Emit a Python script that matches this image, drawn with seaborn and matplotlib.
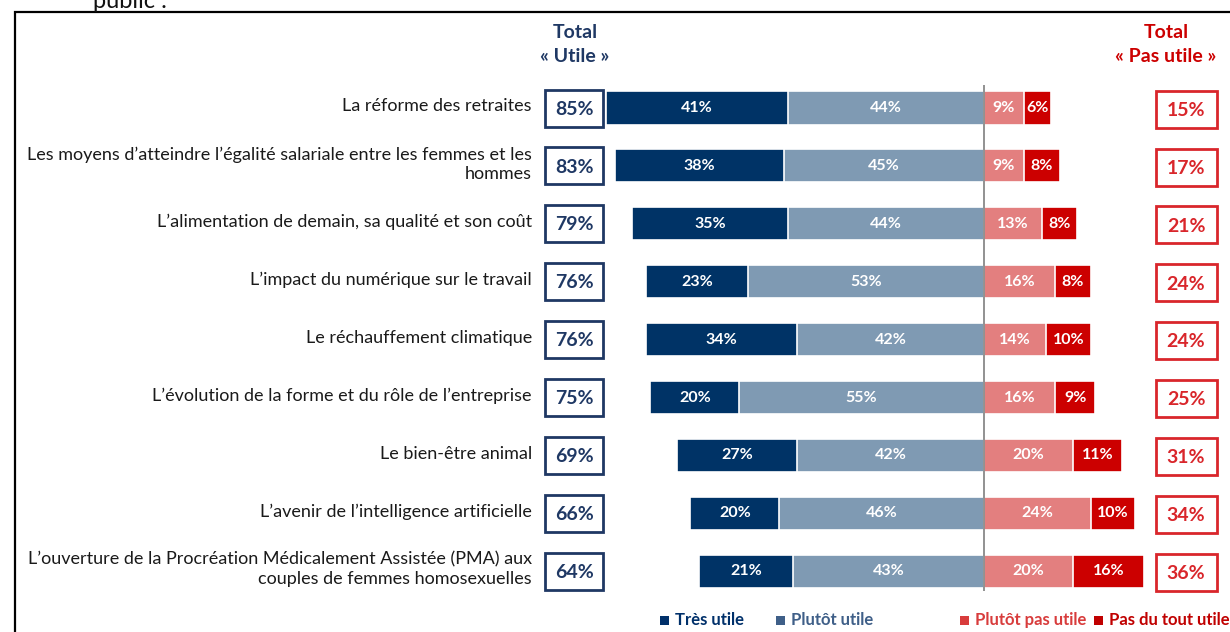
import matplotlib
matplotlib.use("Agg")
import matplotlib.pyplot as plt
from matplotlib.patches import Rectangle
import seaborn as sns
import pandas as pd

categories = [
    "La réforme des retraites",
    "Les moyens d’atteindre l’égalité salariale entre les femmes et les\nhommes",
    "L’alimentation de demain, sa qualité et son coût",
    "L’impact du numérique sur le travail",
    "Le réchauffement climatique",
    "L’évolution de la forme et du rôle de l’entreprise",
    "Le bien-être animal",
    "L’avenir de l’intelligence artificielle",
    "L’ouverture de la Procréation Médicalement Assistée (PMA) aux\ncouples de femmes homosexuelles",
]
tres_utile = [41, 38, 35, 23, 34, 20, 27, 20, 21]
plutot_utile = [44, 45, 44, 53, 42, 55, 42, 46, 43]
plutot_pas_utile = [9, 9, 13, 16, 14, 16, 20, 24, 20]
pas_du_tout_utile = [6, 8, 8, 8, 10, 9, 11, 10, 16]
total_utile = [85, 83, 79, 76, 76, 75, 69, 66, 64]
total_pas_utile = [15, 17, 21, 24, 24, 25, 31, 34, 36]
legend_labels = ["Très utile", "Plutôt utile", "Plutôt pas utile", "Pas du tout utile"]

C_DARK = "#003366"
C_LIGHT = "#7f9ab3"
C_LRED = "#e37f7f"
C_RED = "#cc0000"
C_BOXBLUE = "#1f3864"
C_BOXRED = "#d9262b"

sns.set_style("white")
plt.rcParams["font.family"] = ["Lato", "DejaVu Sans"]

W, H = 1230, 632
fig = plt.figure(figsize=(W / 100, H / 100), dpi=100)
ax = fig.add_axes([0, 0, 1, 1])

PX_PER_PCT = 4.45
X0 = 984.0
ROW0 = 108.0
ROW_STEP = 57.9


def px_x(p):
    return (p - X0) / PX_PER_PCT


def px_y(p):
    return (p - ROW0) / ROW_STEP


df = pd.DataFrame({
    "cat": categories,
    "neg_total": [-v for v in total_utile],
    "neg_plutot": [-v for v in plutot_utile],
    "pos_total": total_pas_utile,
    "pos_plutot": plutot_pas_utile,
})

bw = 0.57
common = dict(y="cat", data=df, orient="h", width=bw, saturation=1,
              edgecolor="white", linewidth=1.2, errorbar=None, ax=ax)
sns.barplot(x="neg_total", color=C_DARK, **common)
sns.barplot(x="neg_plutot", color=C_LIGHT, **common)
sns.barplot(x="pos_total", color=C_RED, **common)
sns.barplot(x="pos_plutot", color=C_LRED, **common)

ax.set_xlim(px_x(0), px_x(W))
ax.set_ylim(px_y(H), px_y(0))
ax.axis("off")

# center line
ax.vlines(0, px_y(85), px_y(591), color="#7f7f7f", lw=1.2, zorder=5)

lbl_kw = dict(ha="center", va="center", color="white", fontsize=11.5, fontweight="bold", zorder=6)
for i in range(len(categories)):
    tu, pu, pp, pd_ = tres_utile[i], plutot_utile[i], plutot_pas_utile[i], pas_du_tout_utile[i]
    ax.text(-(pu + tu / 2), i, f"{tu}%", **lbl_kw)
    ax.text(-pu / 2, i, f"{pu}%", **lbl_kw)
    ax.text(pp / 2, i, f"{pp}%", **lbl_kw)
    ax.text(pp + pd_ / 2, i, f"{pd_}%", **lbl_kw)

    # category label
    ax.text(px_x(532), i - 0.03, categories[i], ha="right", va="center", fontsize=13,
            color="#1a1a1a", multialignment="right", linespacing=1.25)

    # left total box
    bwid = 58 / PX_PER_PCT
    bh = 37 / ROW_STEP
    cx = px_x(574)
    ax.add_patch(Rectangle((cx - bwid / 2, i - bh / 2), bwid, bh, fc="white",
                           ec=C_BOXBLUE, lw=2, zorder=7))
    ax.text(cx, i + 0.02, f"{total_utile[i]}%", ha="center", va="center", fontsize=14,
            fontweight="bold", color=C_BOXBLUE, zorder=8)

    # right total box
    rw = 61 / PX_PER_PCT
    rcx = px_x(1186)
    ax.add_patch(Rectangle((rcx - rw / 2, i - bh / 2 + 0.02), rw, bh, fc="white",
                           ec=C_BOXRED, lw=2, zorder=7))
    ax.text(rcx, i + 0.04, f"{total_pas_utile[i]}%", ha="center", va="center", fontsize=14,
            fontweight="bold", color=C_BOXRED, zorder=8)

# headers
hdr = dict(ha="center", va="center", fontsize=14, fontweight="bold")
ax.text(px_x(575), px_y(32), "Total", color=C_BOXBLUE, **hdr)
ax.text(px_x(575), px_y(57), "« Utile »", color=C_BOXBLUE, **hdr)
ax.text(px_x(1166), px_y(32), "Total", color=C_RED, **hdr)
ax.text(px_x(1166), px_y(57), "« Pas utile »", color=C_RED, **hdr)

# legend
leg_colors = ["#00306a", "#3f5f88", "#d83c3c", "#c00000"]
leg_x = [660, 776, 960, 1094]
ly = px_y(620)
sq_w = 9 / PX_PER_PCT
sq_h = 9 / ROW_STEP
for lab, col, x in zip(legend_labels, leg_colors, leg_x):
    ax.add_patch(Rectangle((px_x(x), ly - sq_h / 2), sq_w, sq_h, fc=col, ec="none", clip_on=False))
    ax.text(px_x(x + 15), ly, lab, ha="left", va="center", fontsize=12,
            fontweight="bold", color=col, clip_on=False)

# frame and partial heading
fig.add_artist(Rectangle((15 / W, -0.1), 2.0, 1 - 12 / H + 0.1, transform=fig.transFigure,
                         fill=False, ec="black", lw=1.6))
fig.text(93 / W, 1 - 1 / H, "public :", ha="left", va="center", fontsize=17, color="#111111")

fig.savefig("out.png", dpi=100)
